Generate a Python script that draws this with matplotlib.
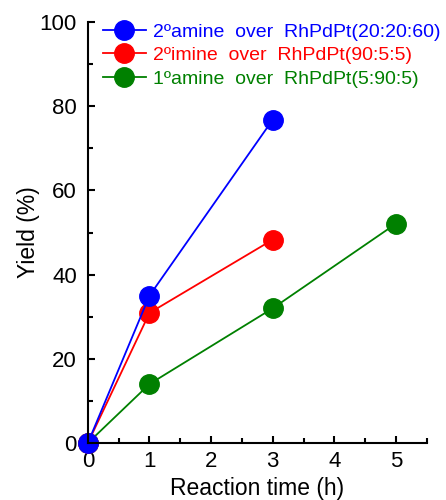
import matplotlib
matplotlib.use("Agg")
import matplotlib.pyplot as plt
from matplotlib.ticker import MultipleLocator

plt.rcParams["font.family"] = ["Liberation Sans", "DejaVu Sans"]

time_a = [0, 1, 3]
amine2 = [0, 35.0, 76.8]

time_b = [0, 1, 3]
imine2 = [0, 30.9, 48.3]

time_c = [0, 1, 3, 5]
amine1 = [0, 14.0, 32.0, 52.1]

labels = ["2ºamine  over  RhPdPt(20:20:60)",
          "2ºimine  over  RhPdPt(90:5:5)",
          "1ºamine  over  RhPdPt(5:90:5)"]
colors = ["#0000ff", "#ff0000", "#008000"]

fig = plt.figure(figsize=(4.46, 5), dpi=100)
ax = fig.add_axes([0.197, 0.114, 0.76, 0.842])

# draw green first so blue sits on top at the origin
series = [(time_a, amine2), (time_b, imine2), (time_c, amine1)]
handles = []
for (t, y), c, lab in reversed(list(zip(series, colors, labels))):
    h, = ax.plot(t, y, color=c, lw=1.3, marker="o", ms=14, mec=c,
                 label=lab, clip_on=False)
    handles.append(h)
handles = handles[::-1]

ax.set_xlim(0, 5.5)
ax.set_ylim(0, 100)
ax.xaxis.set_major_locator(MultipleLocator(1))
ax.xaxis.set_minor_locator(MultipleLocator(0.5))
ax.yaxis.set_major_locator(MultipleLocator(20))
ax.yaxis.set_minor_locator(MultipleLocator(10))

for s in ["top", "right"]:
    ax.spines[s].set_visible(False)
for s in ["left", "bottom"]:
    ax.spines[s].set_linewidth(1.5)

ax.tick_params(which="both", direction="in", width=1.5, labelsize=16)
ax.tick_params(which="major", length=5)
ax.tick_params(which="minor", length=3.5)
ax.tick_params(axis="x", pad=6)
ax.tick_params(axis="y", pad=8)

ax.set_xlabel("Reaction time (h)", fontsize=16.5, labelpad=3)
ax.set_ylabel("Yield (%)", fontsize=16.5, labelpad=0)

leg = ax.legend(handles=handles, loc="upper left", bbox_to_anchor=(0.01, 1.025),
                frameon=False, fontsize=14, handlelength=2.2,
                handletextpad=0.4, labelspacing=0.3, borderaxespad=0.2)
for txt, c in zip(leg.get_texts(), colors):
    txt.set_color(c)

fig.savefig("out.png", dpi=100)
